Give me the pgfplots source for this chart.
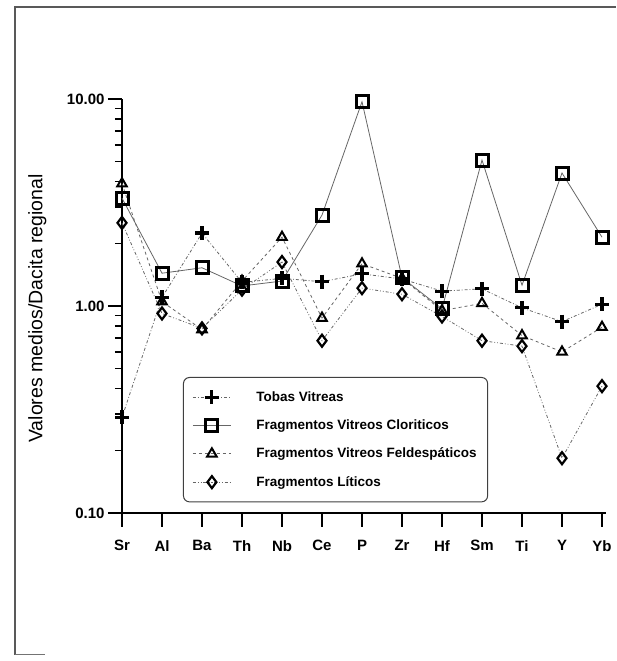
\documentclass[border=0pt]{standalone}
\usepackage{fontspec}
\setmainfont{Liberation Sans}
\usepackage{pgfplots}
\pgfplotsset{compat=1.18}
\begin{document}
\begin{tikzpicture}[x=1pt,y=1pt]
\useasboundingbox (0,0) rectangle (616,661);
\draw[line width=1.5pt, black!65] (15,6) -- (15,654) -- (616,654);
\draw[line width=1pt, black!55] (15,6) -- (45,6);
\begin{axis}[
  at={(122pt,148pt)}, anchor=south west,
  scale only axis, width=484pt, height=414pt,
  ymode=log, ymin=0.1, ymax=10,
  xmin=0, xmax=12.1,
  clip=false,
  axis lines*=left,
  axis line style={line width=2pt, black},
  xtick={0,...,12},
  xticklabels={Sr,Al,Ba,Th,Nb,Ce,P,Zr,Hf,Sm,Ti,Y,Yb},
  ytick={0.1,1,10},
  yticklabels={\textbf{0.10},\textbf{1.00},\textbf{10.00}},
  tick align=outside,
  major tick length=14pt, minor tick length=7pt,
  tick style={line width=1.6pt, black},
  xticklabel style={font=\bfseries\fontsize{15}{15}\selectfont, yshift=-10pt},
  yticklabel style={font=\bfseries\fontsize{15}{15}\selectfont},
  ylabel={Valores medios/Dacita regional},
  ylabel style={font=\fontsize{19.5}{19.5}\selectfont, at={(axis description cs:-0.175,0.494)}, anchor=center},
  legend cell align=left,
  legend style={at={(0.126,0.3285)}, anchor=north west, rounded corners=6pt,
    draw=black!75, line width=1pt, font=\bfseries\fontsize{13.5}{13.5}\selectfont,
    inner xsep=9pt, inner ysep=12pt, row sep=13pt},
  legend image code/.code={\draw[mark repeat=2,mark phase=2] plot coordinates {(0pt,0pt) (19pt,0pt) (38pt,0pt)};},
  /tikz/every odd column/.append style={column sep=23pt},
]
\addplot[black!60, line width=0.8pt, dash dot, mark=+, mark size=7pt, mark options={solid, black, line width=3.2pt}]
  coordinates {(0,0.29) (1,1.10) (2,2.25) (3,1.30) (4,1.36) (5,1.31) (6,1.43) (7,1.35) (8,1.18) (9,1.21) (10,0.98) (11,0.84) (12,1.02)};
\addlegendentry{Tobas Vitreas}
\addplot[black!60, line width=0.8pt, solid, mark=square, mark size=6pt, mark options={solid, black, line width=3pt}]
  coordinates {(0,3.32) (1,1.44) (2,1.53) (3,1.25) (4,1.32) (5,2.75) (6,9.7) (7,1.37) (8,0.97) (9,5.07) (10,1.26) (11,4.39) (12,2.15)};
\addlegendentry{Fragmentos Vitreos Cloriticos}
\addplot[black!60, line width=0.8pt, dashed, mark=triangle, mark size=5.5pt, mark options={solid, black, line width=2pt}]
  coordinates {(0,3.9) (1,1.05) (2,0.77) (3,1.32) (4,2.15) (5,0.875) (6,1.6) (7,1.36) (8,0.95) (9,1.03) (10,0.72) (11,0.60) (12,0.79)};
\addlegendentry{Fragmentos Vitreos Feldespáticos}
\addplot[black!60, line width=0.8pt, dash dot dot, mark=diamond, mark size=6pt, mark options={solid, black, line width=2.2pt}]
  coordinates {(0,2.52) (1,0.92) (2,0.78) (3,1.2) (4,1.63) (5,0.68) (6,1.22) (7,1.14) (8,0.89) (9,0.68) (10,0.64) (11,0.184) (12,0.41)};
\addlegendentry{Fragmentos Líticos}
\end{axis}
\end{tikzpicture}
\end{document}
